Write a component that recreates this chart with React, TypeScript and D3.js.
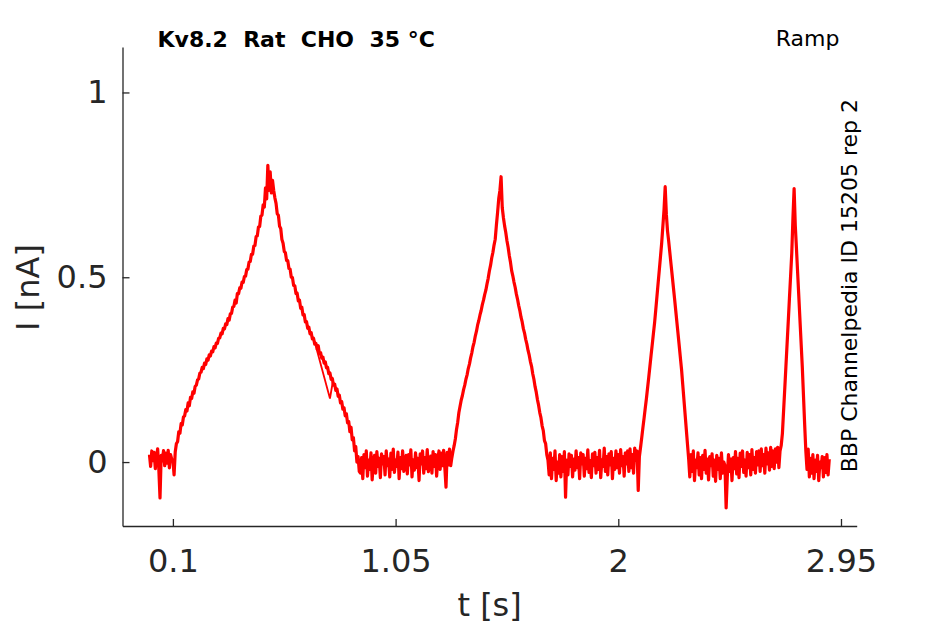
import { useEffect, useRef } from 'react';
import * as d3 from 'd3';

// Recorded current, one value every SAMPLE_DT seconds starting at t = 0 (nA)
const SAMPLE_DT = 0.005;
const current = [
  0.02, -0.012, 0.03, 0.004, 0.026, -0.018, 0.012, 0.036, -0.02, -0.097, 0.018, 0.003, 0.031, -0.01, 0.024, -0.003, 0.032, -0.016, 0.02, 0.008,
  0.005, -0.035, 0.028, 0.05, 0.055, 0.082, 0.078, 0.104, 0.1, 0.122, 0.125, 0.142, 0.138, 0.16, 0.152, 0.175, 0.172, 0.19, 0.186, 0.205,
  0.208, 0.222, 0.225, 0.241, 0.243, 0.256, 0.253, 0.268, 0.264, 0.279, 0.276, 0.29, 0.287, 0.3, 0.298, 0.312, 0.309, 0.322, 0.321, 0.335,
  0.336, 0.349, 0.347, 0.362, 0.36, 0.374, 0.372, 0.388, 0.384, 0.401, 0.402, 0.419, 0.421, 0.438, 0.43, 0.456, 0.455, 0.471, 0.47, 0.487,
  0.486, 0.502, 0.503, 0.521, 0.522, 0.541, 0.543, 0.562, 0.562, 0.584, 0.586, 0.61, 0.612, 0.636, 0.637, 0.665, 0.668, 0.696, 0.69, 0.742,
  0.712, 0.803, 0.735, 0.785, 0.728, 0.762, 0.735, 0.715, 0.7, 0.672, 0.668, 0.638, 0.632, 0.602, 0.592, 0.57, 0.566, 0.545, 0.545, 0.524,
  0.522, 0.5, 0.499, 0.478, 0.477, 0.456, 0.457, 0.436, 0.438, 0.416, 0.419, 0.398, 0.399, 0.379, 0.38, 0.362, 0.365, 0.347, 0.35, 0.333,
  0.335, 0.319, 0.321, 0.306, 0.315, 0.293, 0.296, 0.281, 0.284, 0.268, 0.271, 0.255, 0.256, 0.239, 0.241, 0.224, 0.226, 0.208, 0.211, 0.194,
  0.198, 0.178, 0.181, 0.16, 0.164, 0.143, 0.147, 0.125, 0.131, 0.106, 0.11, 0.082, 0.094, 0.06, 0.066, 0.03, 0.042, 0.0, 0.015, -0.025,
  -0.03, 0.012, -0.045, 0.02, -0.015, 0.03, -0.038, 0.005, -0.02, 0.025, -0.048, 0.0, 0.018, -0.03, 0.028, -0.012, 0.01, -0.042, 0.022, -0.005,
  0.015, -0.035, 0.03, -0.01, 0.008, -0.04, 0.024, -0.02, 0.035, -0.028, 0.005, -0.012, 0.027, -0.045, 0.012, -0.018, 0.03, -0.025, 0.0, 0.018,
  -0.032, 0.02, -0.008, 0.033, -0.04, 0.006, -0.022, 0.025, -0.015, 0.01, -0.05, 0.022, -0.005, 0.03, -0.03, 0.012, -0.018, 0.034, -0.026, 0.004,
  0.016, -0.03, 0.028, -0.012, 0.02, -0.038, 0.008, 0.03, -0.02, 0.024, -0.01, 0.032, -0.015, -0.068, 0.026, -0.008, 0.035, -0.01, 0.012, 0.03,
  0.045, 0.063, 0.089, 0.108, 0.134, 0.151, 0.168, 0.18, 0.196, 0.208, 0.224, 0.236, 0.253, 0.265, 0.282, 0.295, 0.312, 0.324, 0.341, 0.354,
  0.371, 0.383, 0.398, 0.41, 0.426, 0.438, 0.453, 0.465, 0.482, 0.497, 0.517, 0.532, 0.552, 0.567, 0.587, 0.603, 0.641, 0.675, 0.713, 0.735,
  0.772, 0.688, 0.661, 0.639, 0.621, 0.599, 0.581, 0.559, 0.541, 0.518, 0.504, 0.487, 0.473, 0.455, 0.441, 0.424, 0.41, 0.392, 0.379, 0.361,
  0.349, 0.332, 0.319, 0.302, 0.289, 0.272, 0.259, 0.239, 0.224, 0.204, 0.189, 0.169, 0.154, 0.134, 0.12, 0.098, 0.085, 0.058, 0.05, 0.02,
  0.005, -0.035, 0.025, -0.045, 0.01, -0.02, 0.03, -0.05, 0.0, -0.03, 0.02, -0.04, 0.015, -0.025, 0.028, -0.095, 0.005, -0.035, 0.022, -0.012,
  0.018, -0.04, 0.008, -0.022, 0.03, -0.015, 0.012, -0.045, 0.025, -0.005, 0.02, -0.038, 0.01, -0.018, 0.033, -0.028, 0.004, -0.042, 0.022, -0.01,
  0.026, -0.03, 0.012, -0.02, 0.032, -0.042, 0.006, -0.012, 0.038, -0.025, 0.015, -0.035, 0.022, -0.008, 0.028, -0.045, 0.01, -0.02, 0.03, -0.015,
  0.02, -0.03, 0.034, -0.01, 0.015, -0.038, 0.025, -0.005, 0.03, -0.025, 0.036, -0.015, 0.02, -0.03, 0.038, 0.005, 0.03, -0.077, 0.015, 0.04,
  0.066, 0.093, 0.119, 0.146, 0.172, 0.201, 0.23, 0.26, 0.29, 0.319, 0.349, 0.378, 0.413, 0.449, 0.485, 0.52, 0.556, 0.592, 0.637, 0.682,
  0.745, 0.67, 0.625, 0.597, 0.566, 0.535, 0.504, 0.473, 0.442, 0.41, 0.378, 0.346, 0.314, 0.281, 0.249, 0.209, 0.169, 0.129, 0.089, 0.049,
  0.01, -0.04, 0.02, -0.025, 0.03, -0.05, 0.005, -0.015, 0.025, -0.035, 0.012, -0.045, 0.018, -0.02, 0.032, -0.03, 0.008, -0.048, 0.015, -0.01,
  0.022, -0.038, 0.005, -0.052, 0.018, -0.02, 0.01, -0.045, 0.025, -0.03, 0.0, -0.01, -0.124, -0.04, 0.02, -0.025, 0.008, -0.05, 0.012, -0.018,
  0.028, -0.032, 0.01, -0.042, 0.024, -0.012, 0.03, -0.028, 0.005, -0.038, 0.026, -0.015, 0.02, -0.035, 0.034, -0.02, 0.012, -0.03, 0.028, -0.008,
  0.03, -0.025, 0.036, -0.01, 0.02, -0.03, 0.038, -0.005, 0.025, -0.022, 0.04, -0.012, 0.03, -0.018, 0.036, 0.0, 0.04, -0.015, 0.03, 0.045,
  0.077, 0.137, 0.197, 0.258, 0.319, 0.38, 0.442, 0.503, 0.565, 0.66, 0.74, 0.64, 0.578, 0.513, 0.449, 0.384, 0.32, 0.256, 0.179, 0.102,
  0.03, -0.02, 0.035, -0.04, 0.01, -0.03, 0.02, -0.045, 0.005, -0.025, 0.018, -0.05, 0.0, -0.015, 0.015, -0.04, 0.012, -0.028, 0.02, -0.035,
  0.008,
];

// thin stray excursion on the falling edge of the first ramp: [t (s), I (nA)]
const loopArtifact: [number, number][] = [
  [0.713, 0.306],
  [0.770, 0.172],
  [0.784, 0.224],
];

const xTicks = [0.1, 1.05, 2, 2.95];
const yTicks = [0, 0.5, 1];
const X_DOMAIN: [number, number] = [-0.115, 3.017];
const Y_DOMAIN: [number, number] = [-0.173, 1.123];

const TITLE = 'Kv8.2  Rat  CHO  35 °C';
const PROTOCOL = 'Ramp';
const SOURCE = 'BBP Channelpedia ID 15205 rep 2';

const WIDTH = 945;
const HEIGHT = 624;
const PLOT = { left: 122.5, right: 856.7, top: 47, bottom: 526 };
const AXIS_COLOR = '#262626';
const FONT = '"DejaVu Sans", Verdana, sans-serif';

export default function App() {
  const svgRef = useRef<SVGSVGElement>(null);

  useEffect(() => {
    if (!svgRef.current) return;
    const svg = d3.select(svgRef.current);
    svg.selectAll('*').remove();

    const x = d3.scaleLinear().domain(X_DOMAIN).range([PLOT.left, PLOT.right]);
    const y = d3.scaleLinear().domain(Y_DOMAIN).range([PLOT.bottom, PLOT.top]);

    // Trace
    const line = d3.line<number>()
      .x((_, i) => x(i * SAMPLE_DT))
      .y(d => y(d));
    svg.append('path')
      .datum(current)
      .attr('d', line)
      .attr('fill', 'none')
      .attr('stroke', '#ff0000')
      .attr('stroke-width', 3.2)
      .attr('stroke-linejoin', 'round');

    const loopLine = d3.line<[number, number]>()
      .x(d => x(d[0]))
      .y(d => y(d[1]));
    svg.append('path')
      .datum(loopArtifact)
      .attr('d', loopLine)
      .attr('fill', 'none')
      .attr('stroke', '#ff0000')
      .attr('stroke-width', 1.8);

    // Axes (ticks point inwards, MATLAB style)
    const xAxis = d3.axisBottom(x)
      .tickValues(xTicks)
      .tickFormat(d => String(d))
      .tickSizeInner(-7)
      .tickSizeOuter(0)
      .tickPadding(23);
    const yAxis = d3.axisLeft(y)
      .tickValues(yTicks)
      .tickFormat(d => String(d))
      .tickSizeInner(-7)
      .tickSizeOuter(0)
      .tickPadding(15);

    const gx = svg.append('g')
      .attr('transform', `translate(0,${PLOT.bottom})`)
      .call(xAxis);
    const gy = svg.append('g')
      .attr('transform', `translate(${PLOT.left},0)`)
      .call(yAxis);

    [gx, gy].forEach(g => {
      g.attr('font-family', FONT).attr('font-size', 32);
      g.selectAll('.domain, line').attr('stroke', AXIS_COLOR).attr('stroke-width', 1.3);
      g.selectAll('text').attr('fill', AXIS_COLOR);
    });

    // Axis labels
    svg.append('text')
      .attr('x', (PLOT.left + PLOT.right) / 2)
      .attr('y', 616)
      .attr('text-anchor', 'middle')
      .attr('font-family', FONT)
      .attr('font-size', 32)
      .attr('fill', AXIS_COLOR)
      .text('t [s]');
    svg.append('text')
      .attr('transform', 'translate(38.5,287.5) rotate(-90)')
      .attr('text-anchor', 'middle')
      .attr('font-family', FONT)
      .attr('font-size', 32)
      .attr('fill', AXIS_COLOR)
      .text('I [nA]');

    // Annotations
    svg.append('text')
      .attr('x', 157.5)
      .attr('y', 46.5)
      .attr('font-family', FONT)
      .attr('font-size', 22)
      .attr('font-weight', 'bold')
      .attr('fill', '#000')
      .style('white-space', 'pre')
      .text(TITLE);
    svg.append('text')
      .attr('x', 839.5)
      .attr('y', 46)
      .attr('text-anchor', 'end')
      .attr('font-family', FONT)
      .attr('font-size', 22)
      .attr('fill', '#000')
      .text(PROTOCOL);
    svg.append('text')
      .attr('transform', 'translate(857,99) rotate(-90)')
      .attr('text-anchor', 'end')
      .attr('font-family', FONT)
      .attr('font-size', 22)
      .attr('fill', '#000')
      .text(SOURCE);
  }, []);

  return (
    <div>
      <svg
        ref={svgRef}
        width={WIDTH}
        height={HEIGHT}
        style={{ position: 'absolute', left: 0, top: 0, background: '#fff' }}
      />
    </div>
  );
}
